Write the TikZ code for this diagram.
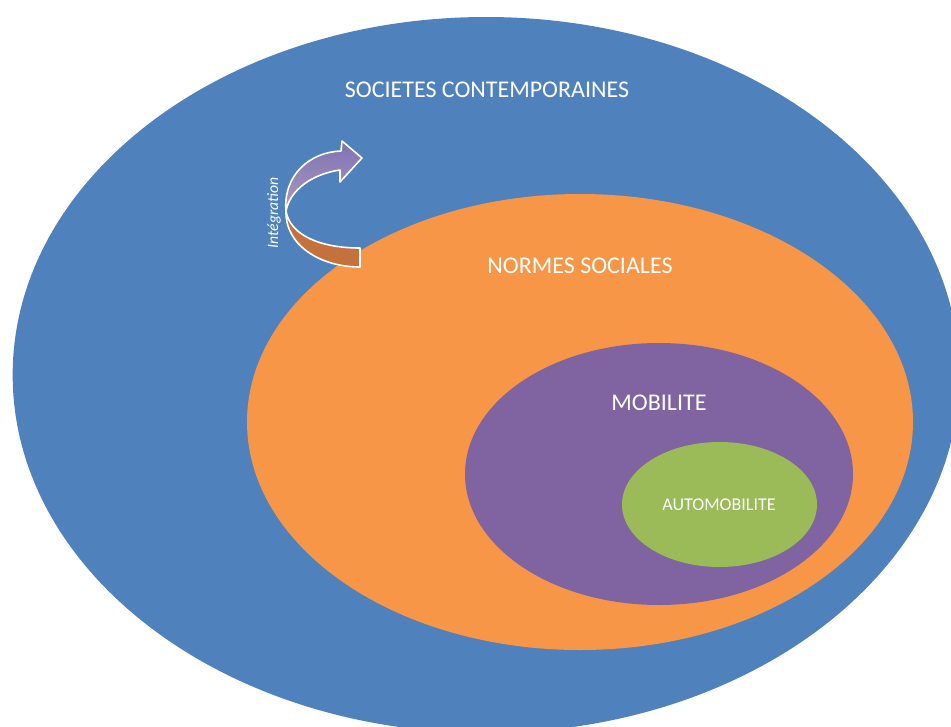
\documentclass[tikz,border=0pt]{standalone}
\usepackage{fontspec}
\setmainfont{Carlito}
\usetikzlibrary{shapes.geometric}
\definecolor{socblue}{HTML}{4F81BD}
\definecolor{normorange}{HTML}{F79646}
\definecolor{mobpurple}{HTML}{8064A2}
\definecolor{autogreen}{HTML}{9BBB59}
\definecolor{arrbrown}{HTML}{C4713B}
\definecolor{arrtop}{HTML}{7C74B2}
\definecolor{arrbot}{HTML}{AE97C0}
\tikzset{
  zone/.style={ellipse, inner sep=0pt, draw=none},
  biglabel/.style={text=white, inner sep=0pt, font=\fontsize{18}{21}\selectfont},
  smalllabel/.style={text=white, inner sep=0pt, font=\fontsize{13.5}{16}\selectfont},
  arrowpart/.style={draw=white, line width=1.2pt, line join=round},
}
\begin{document}
\begin{tikzpicture}[x=0.75pt,y=-0.75pt]
\useasboundingbox (0,0) rectangle (951,726);
\clip (0,0) rectangle (951,726);
\fill[white] (0,0) rectangle (951,726);
% nested zones
\node[zone, fill=socblue, minimum width=710pt, minimum height=537pt] (soc) at (486,375) {};
\node[zone, fill=normorange, minimum width=499.5pt, minimum height=342pt] (norm) at (580,422) {};
\node[zone, fill=mobpurple, minimum width=291pt, minimum height=196.5pt] (mob) at (659,474) {};
\node[zone, fill=autogreen, minimum width=146.25pt, minimum height=93.75pt] (auto) at (719.5,504.5) {};
% labels
\node[biglabel] (tsoc) at (487,90) {SOCIETES CONTEMPORAINES};
\node[biglabel] (tnorm) at (580,266) {NORMES SOCIALES};
\node[biglabel] (tmob) at (659,403) {MOBILITE};
\node[smalllabel] (tauto) at (719,505) {AUTOMOBILITE};
% curved arrow: back band
\path[arrowpart, fill=arrbrown]
  (286,211) .. controls (285,245) and (320,267) .. (360,267)
  -- (360,248) .. controls (320,248) and (290,235) .. (286,211) -- cycle;
% curved arrow: front band with head
\path[arrowpart, top color=arrtop, bottom color=arrbot]
  (286,211) .. controls (283,175) and (310,152) .. (341,151)
  -- (342,141) -- (362,158) -- (340,182) -- (340,170)
  .. controls (312,174) and (290,190) .. (286,211) -- cycle;
\node[rotate=90, text=white, inner sep=0pt, font=\itshape\fontsize{11.8}{14}\selectfont] (tint) at (274,213) {Intégration};
\end{tikzpicture}
\end{document}
